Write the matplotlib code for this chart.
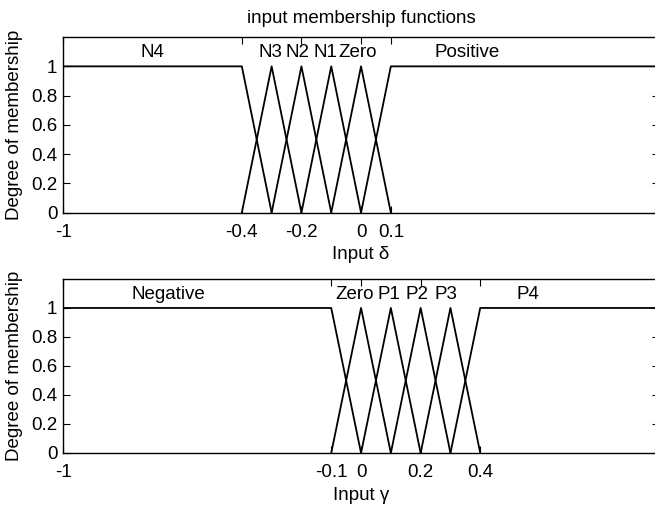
#!/usr/bin/env python3
"""Input membership functions (delta and gamma), MATLAB plotmf style."""

import matplotlib
matplotlib.use("Agg")
import matplotlib.pyplot as plt

FONT = ["Liberation Sans", "DejaVu Sans"]
FS = 13.5

# --- top panel: input delta ---
DELTA_NAMES = ["N4", "N3", "N2", "N1", "Zero", "Positive"]
DELTA_X = [
    [-1.0, -0.4, -0.3],
    [-0.4, -0.3, -0.2],
    [-0.3, -0.2, -0.1],
    [-0.2, -0.1, 0.0],
    [-0.1, 0.0, 0.1],
    [0.0, 0.1, 1.0],
]
DELTA_Y = [
    [1, 1, 0],
    [0, 1, 0],
    [0, 1, 0],
    [0, 1, 0],
    [0, 1, 0],
    [0, 1, 1],
]
DELTA_LABEL_X = [-0.70, -0.305, -0.214, -0.12, -0.01, 0.356]
DELTA_TICKS = [-1, -0.4, -0.2, 0, 0.1, 1]
DELTA_TICKLABELS = ["-1", "-0.4", "-0.2", "0", "0.1", "1"]

# --- bottom panel: input gamma ---
GAMMA_NAMES = ["Negative", "Zero", "P1", "P2", "P3", "P4"]
GAMMA_X = [
    [-1.0, -0.1, 0.0],
    [-0.1, 0.0, 0.1],
    [0.0, 0.1, 0.2],
    [0.1, 0.2, 0.3],
    [0.2, 0.3, 0.4],
    [0.3, 0.4, 1.0],
]
GAMMA_Y = [
    [1, 1, 0],
    [0, 1, 0],
    [0, 1, 0],
    [0, 1, 0],
    [0, 1, 0],
    [0, 1, 1],
]
GAMMA_LABEL_X = [-0.648, -0.023, 0.094, 0.187, 0.284, 0.56]
GAMMA_TICKS = [-1, -0.1, 0, 0.2, 0.4, 1]
GAMMA_TICKLABELS = ["-1", "-0.1", "0", "0.2", "0.4", "1"]

Y_TICKS = [0, 0.2, 0.4, 0.6, 0.8, 1]
Y_TICKLABELS = ["0", "0.2", "0.4", "0.6", "0.8", "1"]
LABEL_Y = 1.095

plt.rcParams.update(
    {
        "font.family": FONT,
        "font.size": FS,
        "axes.linewidth": 1.0,
        "xtick.direction": "in",
        "ytick.direction": "in",
        "xtick.major.size": 5,
        "ytick.major.size": 5,
    }
)


def draw_panel(ax, xs, ys, names, label_x, ticks, ticklabels, xlabel):
    for x, y in zip(xs, ys):
        ax.plot(x, y, color="black", linewidth=1.3)
    for name, lx in zip(names, label_x):
        ax.text(lx, LABEL_Y, name, ha="center", va="center", fontsize=FS)
    ax.set_xlim(-1, 1)
    ax.set_ylim(0, 1.2)
    ax.set_xticks(ticks)
    ax.set_xticklabels(ticklabels)
    ax.set_yticks(Y_TICKS)
    ax.set_yticklabels(Y_TICKLABELS)
    ax.tick_params(top=True, right=True, labelsize=FS)
    ax.tick_params(axis="x", pad=8)
    ax.tick_params(axis="y", pad=4)
    ax.set_xlabel(xlabel, fontsize=FS, labelpad=4)
    ax.set_ylabel("Degree of membership", fontsize=FS, labelpad=6)


fig = plt.figure(figsize=(6.55, 5.05), dpi=100)
ax0 = fig.add_axes([0.0962, 0.579, 0.910, 0.3475])
ax1 = fig.add_axes([0.0962, 0.103, 0.910, 0.3446])

draw_panel(ax0, DELTA_X, DELTA_Y, DELTA_NAMES, DELTA_LABEL_X,
           DELTA_TICKS, DELTA_TICKLABELS, "Input δ")
draw_panel(ax1, GAMMA_X, GAMMA_Y, GAMMA_NAMES, GAMMA_LABEL_X,
           GAMMA_TICKS, GAMMA_TICKLABELS, "Input γ")

ax0.set_title("input membership functions", fontsize=FS, pad=10)

fig.savefig("out.png", dpi=100)
